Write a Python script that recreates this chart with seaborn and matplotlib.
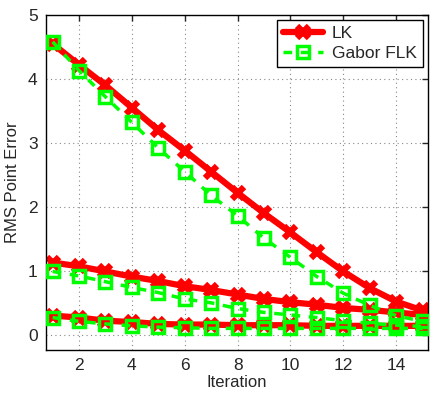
import numpy as np
import pandas as pd
import matplotlib
matplotlib.use("Agg")
import matplotlib.pyplot as plt
import seaborn as sns

iterations = list(range(1, 16))

lk_high = [4.55, 4.22, 3.90, 3.55, 3.20, 2.88, 2.55, 2.22, 1.90, 1.60, 1.29, 0.99, 0.73, 0.52, 0.38]
lk_mid = [1.13, 1.07, 0.99, 0.91, 0.84, 0.76, 0.70, 0.63, 0.56, 0.51, 0.47, 0.42, 0.39, 0.35, 0.31]
lk_low = [0.30, 0.27, 0.22, 0.20, 0.17, 0.16, 0.16, 0.15, 0.15, 0.15, 0.14, 0.14, 0.14, 0.14, 0.14]

gabor_high = [4.58, 4.13, 3.72, 3.32, 2.92, 2.55, 2.18, 1.86, 1.51, 1.21, 0.91, 0.65, 0.46, 0.30, 0.21]
gabor_mid = [0.99, 0.92, 0.83, 0.74, 0.66, 0.56, 0.50, 0.41, 0.35, 0.31, 0.27, 0.22, 0.18, 0.15, 0.13]
gabor_low = [0.27, 0.21, 0.17, 0.14, 0.12, 0.11, 0.10, 0.10, 0.10, 0.10, 0.10, 0.10, 0.10, 0.10, 0.10]

series_names = ["LK", "Gabor FLK"]
x_ticks = [2, 4, 6, 8, 10, 12, 14]
y_ticks = [0, 1, 2, 3, 4, 5]

sns.set_style("white")
plt.rcParams["font.family"] = ["Liberation Sans", "DejaVu Sans"]

fig = plt.figure(figsize=(4.30, 3.93), dpi=100)
ax = fig.add_axes([0.107, 0.109, 0.888, 0.853])

red = (1.0, 0.0, 0.0)
green = (0.0, 1.0, 0.0)

for i, ys in enumerate([lk_high, lk_mid, lk_low]):
    df = pd.DataFrame({"x": iterations, "y": ys})
    sns.lineplot(data=df, x="x", y="y", ax=ax, color=red, linewidth=4.5,
                 marker="x", markersize=8.5, markeredgewidth=4.5, markeredgecolor=red,
                 label=series_names[0] if i == 0 else None, zorder=2)

for i, ys in enumerate([gabor_high, gabor_mid, gabor_low]):
    df = pd.DataFrame({"x": iterations, "y": ys})
    sns.lineplot(data=df, x="x", y="y", ax=ax, color=green, linewidth=2.5,
                 linestyle=(0, (2.5, 2.5)), marker="s", markersize=9,
                 markerfacecolor="none", markeredgewidth=2.5, markeredgecolor=green,
                 label=series_names[1] if i == 0 else None, zorder=3)

ax.set_xlim(0.75, 15.2)
ax.set_ylim(-0.24, 5)
ax.set_xticks(x_ticks)
ax.set_yticks(y_ticks)
ax.set_xlabel("Iteration", fontsize=12, labelpad=1)
ax.set_ylabel("RMS Point Error", fontsize=12, labelpad=6)
ax.tick_params(axis="both", direction="in", labelsize=12.5, length=4, width=1,
               top=True, right=True, pad=6)
ax.grid(True, linestyle=(0, (1, 3)), color="#888888", linewidth=0.8)
for s in ax.spines.values():
    s.set_visible(True)
    s.set_color("black")
    s.set_linewidth(1.0)

leg = ax.legend(loc="upper right", fontsize=12.5, frameon=True, fancybox=False,
                edgecolor="black", framealpha=1, borderpad=0.35, handlelength=2.3,
                labelspacing=0.25, borderaxespad=0.3, handletextpad=0.5)
leg.get_frame().set_linewidth(1.0)

fig.savefig("out.png", dpi=100)
